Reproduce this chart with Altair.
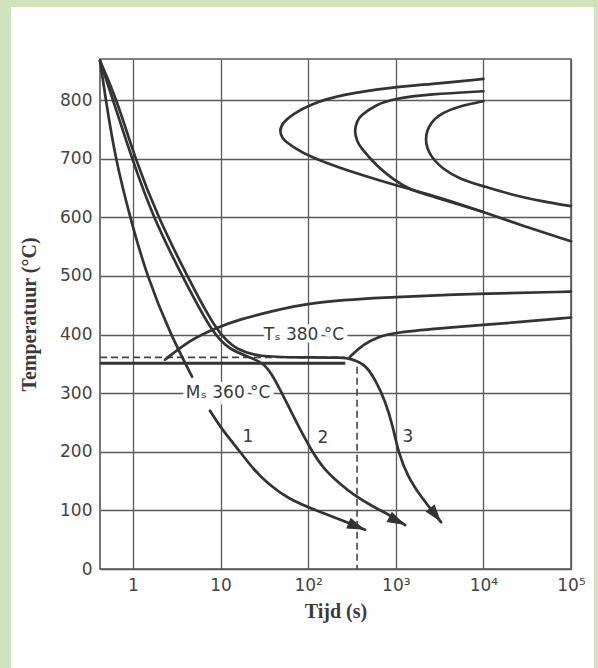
import altair as alt
import pandas as pd

# ---------------- data ----------------
# cooling curve 1 (interrupted where the Ms label sits)
c1a_t = [0.42, 0.49, 0.623, 0.924, 1.445, 2.645, 4.72]
c1a_T = [867, 800, 703, 600, 499, 402, 328]
c1b_t = [7.57, 10.0, 16.7, 24.0, 35.0, 58.0, 137, 277, 445]
c1b_T = [270, 241, 200, 169, 145, 120, 97, 80, 67]
# cooling curve 2
c2_t = [0.42, 0.591, 0.974, 1.69, 3.63, 8.19, 12.8, 21.7, 30.5, 38.7, 47.7, 62.2, 81.0, 111, 148, 222, 325, 553, 929, 1278]
c2_T = [867, 800, 700, 600, 500, 400, 374, 361, 352, 332, 306, 272, 238, 200, 172, 147, 127, 106, 89, 75]
# cooling curve 3 (isothermal hold, then cooling)
c3_t = [0.42, 0.657, 1.054, 1.93, 4.14, 9.34, 15.4, 26.7, 80.8, 263, 309, 445, 594, 755, 929, 1062, 1373, 1940, 3285]
c3_T = [867, 800, 700, 600, 500, 400, 374, 362, 361, 361, 358, 350, 321, 287, 243, 200, 157, 123, 80]
# pearlite C-curves
p1_t = [10000, 2457, 929, 250, 105, 67, 51.5, 46.5, 51.5, 57, 67, 105, 250, 929, 1452, 2457, 3458, 10000, 31470, 100000]
p1_T = [836, 827, 822, 810, 793, 776, 762, 747, 733, 728, 720, 703, 682, 656, 648, 638, 632, 609, 583, 559]
p2_t = [10000, 2457, 929, 610, 390, 361, 335, 361, 390, 610, 929, 1452, 2457, 10000]
p2_T = [815, 810, 802, 793, 773, 764, 747, 730, 720, 687, 665, 647, 637, 609]
p3_t = [10000, 5408, 3458, 2457, 2100, 2457, 3458, 5408, 10000, 20130, 47900, 100000]
p3_T = [798, 790, 779, 762, 733, 704, 682, 665, 653, 639, 627, 619]
# bainite start / finish
bs_t = [2.32, 4.47, 9.1, 16.7, 36.6, 105, 660, 9150, 100000]
bs_T = [357, 391, 412, 426, 439, 455, 463, 470, 473]
bf_t = [300, 420, 660, 930, 3850, 21800, 100000]
bf_T = [362, 383, 397, 403, 412, 420, 429]
# isothermal bath line
iso_t = [0.42, 265]
iso_T = [351, 351]
# dashed guide lines
dh_t = [0.42, 265]
dh_T = [361, 361]
dv_t = [361, 361]
dv_T = [345, 0]

# labels
num_text = ["1", "2", "3"]
num_t = [20.5, 147, 1373]
num_T = [226, 224, 226]
ann_text = ["M\u209b 360 \u00b0C", "T\u209b 380 \u00b0C"]
ann_t = [12.2, 89.5]
ann_T = [300, 400]
# arrow heads at the ends of curves 1, 2, 3
arr_t = [c1b_t[-1], c2_t[-1], c3_t[-1]]
arr_T = [c1b_T[-1], c2_T[-1], c3_T[-1]]
arr_ang = [22, 27, 52]

x_ticks = [1, 10, 100, 1000, 10000, 100000]
x_labels = ["1", "10", "10\u00b2", "10\u00b3", "10\u2074", "10\u2075"]
y_ticks = [0, 100, 200, 300, 400, 500, 600, 700, 800]

# ---------------- build tables ----------------
def curve(name, ts, Ts):
    return pd.DataFrame({"curve": name, "time": ts, "temp": Ts, "i": range(len(ts))})

solid = pd.concat([
    curve("1a", c1a_t, c1a_T), curve("1b", c1b_t, c1b_T),
    curve("2", c2_t, c2_T), curve("3", c3_t, c3_T),
    curve("bs", bs_t, bs_T), curve("bf", bf_t, bf_T),
    curve("p1", p1_t, p1_T), curve("p2", p2_t, p2_T), curve("p3", p3_t, p3_T),
], ignore_index=True)
iso = curve("iso", iso_t, iso_T)
dashed = pd.concat([curve("dh", dh_t, dh_T), curve("dv", dv_t, dv_T)], ignore_index=True)
nums = pd.DataFrame({"time": num_t, "temp": num_T, "txt": num_text})
anns = pd.DataFrame({"time": ann_t, "temp": ann_T, "txt": ann_text})
arrows = pd.DataFrame({"time": arr_t, "temp": arr_T, "ang": arr_ang})

W, H = 471, 510
INK = "#333333"
xs = alt.Scale(type="log", domain=[0.42, 100000], nice=False)
ys = alt.Scale(domain=[0, 870], nice=False)

label_expr = "[" + ",".join(f"'{l}'" for l in x_labels) + "][round(log(datum.value)/LN10)]"
xaxis = alt.Axis(values=x_ticks, labelExpr=label_expr, title="Tijd (s)", grid=True,
                 ticks=False, domain=False, labelFlush=False, labelOverlap=False,
                 labelPadding=8, titlePadding=8)
yaxis = alt.Axis(values=y_ticks, title="Temperatuur (\u00b0C)", grid=True,
                 ticks=False, domain=False, labelFlush=False, labelOverlap=False,
                 labelPadding=8, titlePadding=20)

X = alt.X("time:Q", scale=xs, axis=xaxis)
Y = alt.Y("temp:Q", scale=ys, axis=yaxis)

GREEN = "#cfe4be"
one = pd.DataFrame({"a": [0]})
strip_left = alt.Chart(one).mark_rect(color=GREEN).encode(
    x=alt.value(-100), x2=alt.value(-89), y=alt.value(-59), y2=alt.value(H + 99))
strip_top = alt.Chart(one).mark_rect(color=GREEN).encode(
    x=alt.value(-100), x2=alt.value(W + 27), y=alt.value(-59), y2=alt.value(-52))
strip_right = alt.Chart(one).mark_rect(color=GREEN).encode(
    x=alt.value(W + 23), x2=alt.value(W + 27), y=alt.value(-59), y2=alt.value(H + 99))

lines = alt.Chart(solid).mark_line(color=INK, strokeWidth=2.7, interpolate="basis",
                                   strokeCap="round", strokeJoin="round").encode(
    x=X, y=Y, detail="curve:N", order="i:Q")
iso_line = alt.Chart(iso).mark_line(color=INK, strokeWidth=3).encode(x=X, y=Y, order="i:Q")
dash_line = alt.Chart(dashed).mark_line(color="#444444", strokeWidth=1.6, strokeDash=[7, 4]).encode(
    x=X, y=Y, detail="curve:N", order="i:Q")

ann_halo = alt.Chart(anns).mark_text(font="DejaVu Sans", fontSize=17, color="white",
                                     stroke="white", strokeWidth=8).encode(x=X, y=Y, text="txt:N")
ann_txt = alt.Chart(anns).mark_text(font="DejaVu Sans", fontSize=17, color="#3a3a3a").encode(
    x=X, y=Y, text="txt:N")
num_txt = alt.Chart(nums).mark_text(font="DejaVu Sans", fontSize=17, color="#3a3a3a").encode(
    x=X, y=Y, text="txt:N")

arrow_path = "M0,0L-2,-0.65L-2,0.65Z"
arr = alt.Chart(arrows).mark_point(shape=arrow_path, filled=True, size=320, color=INK,
                                   opacity=1).encode(
    x=X, y=Y, angle=alt.Angle("ang:Q", scale=None))

chart = alt.layer(
    strip_left, strip_top, strip_right,
    iso_line, dash_line, lines, ann_halo, ann_txt, num_txt, arr
).properties(
    width=W, height=H,
    autosize=alt.AutoSizeParams(type="none"),
    padding={"left": 100, "top": 59, "right": 27, "bottom": 99},
).configure(
    background="white"
).configure_view(
    stroke="#555555", strokeWidth=1.6
).configure_axis(
    gridColor="#5a5a5a", gridWidth=1.3, gridOpacity=1,
    labelFont="DejaVu Sans", labelFontSize=17, labelColor="#444444",
    titleFont="Liberation Serif", titleFontWeight="bold", titleFontSize=20, titleColor="#3a3a3a"
)

chart.save("out.html", embed_options={"renderer": "svg", "actions": False})
